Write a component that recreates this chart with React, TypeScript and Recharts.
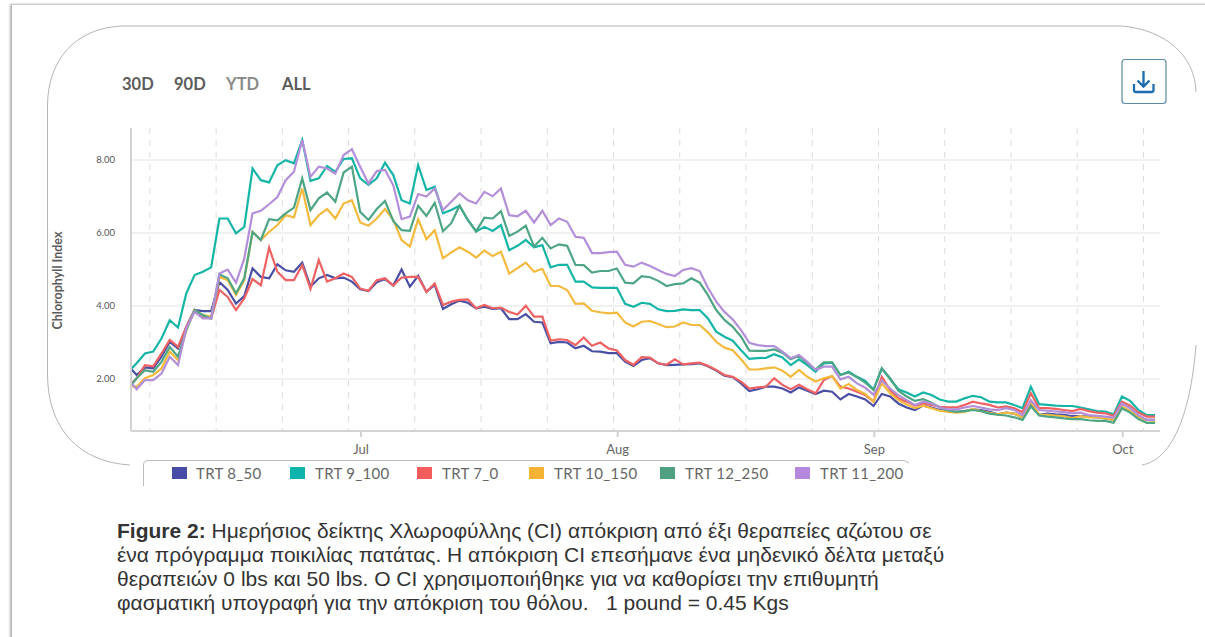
import { CartesianGrid, Line, LineChart, XAxis, YAxis } from 'recharts';

// days counted from 1 June, the first sample is cut off by the axis
const days = [
  2.3,
  2.9, 3.9, 4.9, 5.9, 6.9, 7.9, 8.9, 9.9, 10.9, 11.9,
  12.9, 13.9, 14.9, 15.9, 16.9, 17.9, 18.9, 19.9, 20.9, 21.9,
  22.9, 23.9, 24.9, 25.9, 26.9, 27.9, 28.9, 29.9, 30.9, 31.9,
  32.9, 33.9, 34.9, 35.9, 36.9, 37.9, 38.9, 39.9, 40.9, 41.9,
  42.9, 43.9, 44.9, 45.9, 46.9, 47.9, 48.9, 49.9, 50.9, 51.9,
  52.9, 53.9, 54.9, 55.9, 56.9, 57.9, 58.9, 59.9, 60.9, 61.9,
  62.9, 63.9, 64.9, 65.9, 66.9, 67.9, 68.9, 69.9, 70.9, 71.9,
  72.9, 73.9, 74.9, 75.9, 76.9, 77.9, 78.9, 79.9, 80.9, 81.9,
  82.9, 83.9, 84.9, 85.9, 86.9, 87.9, 88.9, 89.9, 90.9, 91.9,
  92.9, 93.9, 94.9, 95.9, 96.9, 97.9, 98.9, 99.9, 100.9, 101.9,
  102.9, 103.9, 104.9, 105.9, 106.9, 107.9, 108.9, 109.9, 110.9, 111.9,
  112.9, 113.9, 114.9, 115.9, 116.9, 117.9, 118.9, 119.9, 120.9, 121.9,
  122.9, 123.9, 124.9, 125.9,
];

const trt8 = [
  2.26,
  2.11, 2.32, 2.29, 2.61, 3.02, 2.84, 3.43, 3.89, 3.86, 3.86,
  4.66, 4.44, 4.07, 4.27, 5.03, 4.80, 4.76, 5.14, 4.98, 4.94,
  5.19, 4.53, 4.76, 4.85, 4.76, 4.78, 4.67, 4.46, 4.41, 4.65,
  4.74, 4.56, 5.00, 4.53, 4.83, 4.39, 4.58, 3.92, 4.05, 4.15,
  4.09, 3.94, 3.98, 3.92, 3.94, 3.64, 3.64, 3.78, 3.57, 3.55,
  2.98, 3.02, 3.00, 2.84, 2.91, 2.76, 2.75, 2.71, 2.71, 2.48,
  2.36, 2.52, 2.57, 2.43, 2.38, 2.39, 2.40, 2.41, 2.43, 2.35,
  2.23, 2.09, 2.05, 1.88, 1.67, 1.72, 1.79, 1.79, 1.74, 1.63,
  1.77, 1.68, 1.59, 1.68, 1.65, 1.44, 1.59, 1.52, 1.44, 1.26,
  1.59, 1.52, 1.33, 1.22, 1.15, 1.27, 1.22, 1.15, 1.12, 1.10,
  1.12, 1.17, 1.15, 1.10, 1.03, 1.08, 1.05, 0.95, 1.30, 1.02,
  1.05, 1.03, 1.02, 0.98, 0.98, 0.97, 0.95, 0.92, 0.88, 1.20,
  1.12, 0.95, 0.88, 0.88,
];

const trt9 = [
  2.29,
  2.43, 2.70, 2.75, 3.11, 3.61, 3.41, 4.35, 4.85, 4.94, 5.06,
  6.40, 6.40, 5.99, 6.17, 7.77, 7.45, 7.39, 7.86, 8.00, 7.91,
  8.55, 7.43, 7.50, 7.84, 7.68, 8.03, 8.05, 7.50, 7.32, 7.50,
  7.93, 7.59, 6.90, 6.81, 7.86, 7.18, 7.27, 6.54, 6.63, 6.75,
  6.36, 6.04, 6.17, 6.06, 6.22, 5.53, 5.65, 5.81, 5.61, 5.67,
  5.06, 5.13, 5.13, 4.67, 4.67, 4.51, 4.50, 4.50, 4.50, 4.06,
  3.98, 4.09, 4.06, 3.91, 3.86, 3.87, 3.91, 3.89, 3.89, 3.66,
  3.30, 3.16, 3.05, 2.79, 2.55, 2.57, 2.58, 2.68, 2.59, 2.38,
  2.54, 2.38, 2.20, 2.43, 2.45, 2.11, 2.20, 2.06, 1.95, 1.71,
  2.29, 2.00, 1.72, 1.63, 1.52, 1.63, 1.56, 1.44, 1.38, 1.38,
  1.47, 1.54, 1.50, 1.38, 1.36, 1.36, 1.29, 1.20, 1.79, 1.31,
  1.29, 1.27, 1.26, 1.26, 1.22, 1.17, 1.12, 1.11, 1.03, 1.52,
  1.40, 1.15, 1.01, 1.01,
];

const trt7 = [
  1.88,
  2.02, 2.38, 2.35, 2.70, 3.07, 2.88, 3.43, 3.89, 3.71, 3.66,
  4.44, 4.25, 3.89, 4.21, 4.74, 4.57, 5.60, 4.94, 4.71, 4.71,
  5.12, 4.47, 5.26, 4.67, 4.76, 4.89, 4.80, 4.48, 4.42, 4.71,
  4.76, 4.56, 4.78, 4.80, 4.80, 4.39, 4.62, 4.03, 4.12, 4.17,
  4.18, 3.94, 4.03, 3.94, 3.96, 3.84, 3.77, 4.01, 3.71, 3.71,
  3.05, 3.09, 3.07, 2.93, 3.14, 2.91, 3.00, 2.84, 2.78, 2.52,
  2.39, 2.60, 2.59, 2.43, 2.39, 2.54, 2.40, 2.43, 2.45, 2.36,
  2.25, 2.11, 2.06, 1.93, 1.74, 1.77, 1.79, 2.02, 1.84, 1.72,
  1.84, 1.72, 1.61, 1.97, 2.08, 1.79, 1.74, 1.65, 1.56, 1.38,
  2.06, 1.70, 1.47, 1.38, 1.27, 1.33, 1.29, 1.24, 1.22, 1.22,
  1.29, 1.38, 1.33, 1.29, 1.22, 1.25, 1.20, 1.09, 1.61, 1.20,
  1.20, 1.18, 1.15, 1.12, 1.18, 1.12, 1.08, 1.06, 0.99, 1.38,
  1.27, 1.08, 0.97, 0.97,
];

const trt10 = [
  1.80,
  1.79, 2.02, 2.11, 2.29, 2.75, 2.52, 3.34, 3.89, 3.75, 3.71,
  4.80, 4.71, 4.30, 4.71, 6.03, 5.81, 6.03, 6.22, 6.49, 6.43,
  7.22, 6.22, 6.49, 6.66, 6.40, 6.81, 6.90, 6.29, 6.20, 6.40,
  6.66, 6.36, 5.81, 5.63, 6.38, 5.83, 6.08, 5.31, 5.47, 5.61,
  5.49, 5.33, 5.52, 5.37, 5.49, 4.89, 5.04, 5.19, 4.94, 5.02,
  4.55, 4.55, 4.44, 4.06, 4.07, 3.87, 3.83, 3.80, 3.82, 3.55,
  3.44, 3.57, 3.59, 3.51, 3.42, 3.44, 3.55, 3.48, 3.48, 3.28,
  3.02, 2.86, 2.79, 2.54, 2.26, 2.26, 2.29, 2.32, 2.23, 2.06,
  2.25, 2.06, 1.93, 2.02, 2.08, 1.74, 1.86, 1.70, 1.59, 1.38,
  1.88, 1.61, 1.42, 1.30, 1.20, 1.27, 1.20, 1.13, 1.10, 1.08,
  1.10, 1.18, 1.12, 1.07, 1.03, 1.08, 1.05, 0.95, 1.38, 1.02,
  1.02, 1.00, 0.98, 0.93, 0.98, 0.95, 0.95, 0.92, 0.88, 1.25,
  1.12, 0.95, 0.87, 0.85,
];

const trt12 = [
  1.85,
  2.02, 2.24, 2.20, 2.47, 2.88, 2.61, 3.34, 3.89, 3.75, 3.66,
  4.87, 4.76, 4.35, 4.76, 6.03, 5.81, 6.38, 6.35, 6.54, 6.70,
  7.50, 6.63, 6.95, 7.11, 6.86, 7.66, 7.82, 6.58, 6.36, 6.66,
  6.88, 6.33, 6.08, 6.06, 6.75, 6.47, 6.83, 6.05, 6.27, 6.75,
  6.36, 6.05, 6.42, 6.40, 6.60, 5.92, 6.04, 6.20, 5.63, 5.87,
  5.58, 5.69, 5.65, 5.13, 5.12, 4.92, 4.96, 4.96, 5.03, 4.64,
  4.62, 4.82, 4.79, 4.69, 4.55, 4.60, 4.62, 4.76, 4.64, 4.30,
  3.89, 3.62, 3.43, 3.16, 2.78, 2.77, 2.77, 2.81, 2.72, 2.54,
  2.64, 2.43, 2.26, 2.46, 2.46, 2.11, 2.18, 2.05, 1.90, 1.70,
  2.29, 2.02, 1.68, 1.52, 1.40, 1.45, 1.35, 1.22, 1.14, 1.10,
  1.12, 1.15, 1.12, 1.05, 1.02, 1.00, 0.95, 0.88, 1.25, 1.00,
  0.97, 0.95, 0.92, 0.90, 0.90, 0.87, 0.85, 0.85, 0.80, 1.20,
  1.08, 0.90, 0.80, 0.80,
];

const trt11 = [
  1.88,
  1.72, 1.97, 1.97, 2.15, 2.61, 2.38, 3.39, 3.84, 3.66, 3.66,
  4.89, 5.00, 4.64, 5.30, 6.54, 6.61, 6.79, 6.99, 7.45, 7.68,
  8.55, 7.54, 7.82, 7.77, 7.63, 8.14, 8.30, 7.82, 7.36, 7.70,
  7.73, 7.31, 6.38, 6.45, 7.07, 7.00, 7.22, 6.63, 6.86, 7.09,
  6.90, 6.81, 7.13, 7.01, 7.22, 6.49, 6.46, 6.61, 6.29, 6.61,
  6.22, 6.40, 6.31, 5.90, 5.87, 5.45, 5.45, 5.48, 5.49, 5.13,
  5.08, 5.19, 5.10, 4.99, 4.88, 4.82, 4.99, 5.04, 4.96, 4.50,
  4.12, 3.84, 3.63, 3.34, 2.99, 2.93, 2.90, 2.90, 2.75, 2.57,
  2.66, 2.47, 2.25, 2.34, 2.34, 1.99, 2.06, 1.88, 1.76, 1.57,
  1.96, 1.74, 1.56, 1.42, 1.29, 1.38, 1.33, 1.22, 1.17, 1.17,
  1.22, 1.26, 1.22, 1.17, 1.15, 1.20, 1.15, 1.01, 1.42, 1.15,
  1.13, 1.11, 1.09, 1.06, 1.08, 1.01, 0.99, 0.97, 0.94, 1.33,
  1.20, 1.01, 0.88, 0.88,
];

const seriesNames = ['TRT 8_50', 'TRT 9_100', 'TRT 7_0', 'TRT 10_150', 'TRT 12_250', 'TRT 11_200'];
const seriesValues = [trt8, trt9, trt7, trt10, trt12, trt11];
const seriesColors = ['#4a4fa5', '#14b5a6', '#ef6263', '#f3ba3d', '#4ea584', '#b48fd9'];
const swatchColors = ['#474ca6', '#0fb5ac', '#f25c5c', '#f5b335', '#4fa080', '#b588dd'];
const legendSwatchX = [172, 290, 417, 529, 660, 795];
const legendTextX = [196, 315, 442, 554, 685, 820];

const yTicks = [2, 4, 6, 8];
const monthTicks = [30, 61, 92, 122];
const monthNames = ['Jul', 'Aug', 'Sep', 'Oct'];
const gridDays = [4.5, 12.5, 20.5, 28.5, 36.5, 44.5, 52.5, 60.5, 68.5, 76.5, 84.5, 92.5, 100.5, 108.5, 116.5, 124.5];

const rangeButtons = [
  { label: '30D', x: 122, color: '#5c5c5c' },
  { label: '90D', x: 174, color: '#5c5c5c' },
  { label: 'YTD', x: 226, color: '#8a8a8a' },
  { label: 'ALL', x: 282, color: '#5c5c5c' },
];

const captionLines = [
  'Ημερήσιος δείκτης Χλωροφύλλης (CI) απόκριση από έξι θεραπείες αζώτου σε',
  'ένα πρόγραμμα ποικιλίας πατάτας. Η απόκριση CI επεσήμανε ένα μηδενικό δέλτα μεταξύ',
  'θεραπειών 0 lbs και 50 lbs. Ο CI χρησιμοποιήθηκε για να καθορίσει την επιθυμητή',
  'φασματική υπογραφή για την απόκριση του θόλου.\u00a0\u00a0\u00a01 pound = 0.45 Kgs',
];
const captionTop = [521, 545, 569, 593];

const chartData = days.map((day, i) => {
  const row: Record<string, number> = { day };
  seriesNames.forEach((name, s) => {
    row[name] = seriesValues[s][i];
  });
  return row;
});

const LABEL_FONT = 'Lato, "Open Sans", sans-serif';

export default function App() {
  return (
    <div style={{ position: 'absolute', left: 0, top: 0, width: 1205, height: 637, overflow: 'hidden', background: '#fff' }}>
      {/* scanned page edge */}
      <div style={{ position: 'absolute', left: 12, top: 5, width: 1300, height: 800, background: '#fff', boxShadow: '-2px -1px 2px rgba(0,0,0,0.3)' }} />

      {/* frame and legend box */}
      <svg width={1205} height={637} style={{ position: 'absolute', left: 0, top: 0 }}>
        <path d="M130 465 C 80 462, 48 430, 47.5 375 L 47.5 105 C 48 60, 75 28, 122 26 L 1122 26 C 1165 30, 1195 55, 1196 92" fill="none" stroke="#b5b5b5" strokeWidth={1} />
        <path d="M1142 465 C 1170 460, 1190 420, 1196 345" fill="none" stroke="#b5b5b5" strokeWidth={1} />
        <path d="M143.5 486 L 143.5 465 Q 143.5 460.5 148 460.5 L 904 460.5 L 909 463" fill="none" stroke="#bbb" strokeWidth={1} />
        {/* download button */}
        <rect x={1122} y={59.5} width={44} height={44} rx={3} fill="#fff" stroke="#5c8ba8" strokeWidth={1.2} />
        <path d="M1143.5 71 L 1143.5 86 M1137.5 80.5 L 1143.5 86.5 L 1149.5 80.5 M1134 84 L 1134 90 Q 1134 92 1136 92 L 1151.5 92 Q 1153.5 92 1153.5 90 L 1153.5 84" fill="none" stroke="#1c6db0" strokeWidth={2.3} />
      </svg>

      {rangeButtons.map((b) => (
        <div key={b.label} style={{ position: 'absolute', left: b.x, top: 75, fontFamily: LABEL_FONT, fontSize: 16.5, fontWeight: 700, lineHeight: '18px', color: b.color }}>
          {b.label}
        </div>
      ))}

      <div style={{ position: 'absolute', left: 0, top: 0 }}>
        <LineChart width={1205} height={500} data={chartData} margin={{ top: 128, right: 45, bottom: 39, left: 71 }}>
          <CartesianGrid vertical={false} horizontalValues={yTicks} stroke="#f0f0f0" strokeWidth={2} />
          <CartesianGrid horizontal={false} verticalValues={gridDays} stroke="#dcdcdc" strokeDasharray="6 6" />
          <XAxis
            dataKey="day"
            type="number"
            domain={[2.22, 126.5]}
            allowDataOverflow
            ticks={monthTicks}
            tickFormatter={(v) => monthNames[monthTicks.indexOf(v)]}
            height={30}
            stroke="#d2d2d2"
            strokeWidth={2}
            tickSize={6}
            tickMargin={8}
            tick={{ fontSize: 13, fill: '#666', fontFamily: LABEL_FONT }}
          />
          <YAxis
            type="number"
            domain={[0.575, 8.88]}
            allowDataOverflow
            ticks={yTicks}
            tickFormatter={(v) => v.toFixed(2)}
            width={60}
            stroke="#d2d2d2"
            strokeWidth={2}
            tickLine={false}
            tickMargin={10}
            tick={{ fontSize: 9.5, fill: '#555', fontFamily: LABEL_FONT }}
            label={{ value: 'Chlorophyll Index', angle: -90, position: 'insideLeft', offset: 0, dx: -13, dy: 50, style: { fontSize: 12.5, fontWeight: 700, fill: '#5c5c5c', fontFamily: LABEL_FONT } }}
          />
          {seriesNames.map((name, s) => (
            <Line key={name} dataKey={name} type="linear" stroke={seriesColors[s]} strokeWidth={2.2} dot={false} isAnimationActive={false} />
          ))}
        </LineChart>
      </div>

      {seriesNames.map((name, s) => (
        <div key={name}>
          <div style={{ position: 'absolute', left: legendSwatchX[s], top: 467, width: 15, height: 12, background: swatchColors[s] }} />
          <div style={{ position: 'absolute', left: legendTextX[s], top: 464, fontFamily: LABEL_FONT, fontSize: 15, lineHeight: '18px', letterSpacing: 0.3, color: '#666', whiteSpace: 'nowrap' }}>
            {name}
          </div>
        </div>
      ))}

      {captionLines.map((line, i) => (
        <div key={i} style={{ position: 'absolute', left: 117, top: captionTop[i], fontFamily: '"Liberation Sans", Arial, sans-serif', fontSize: 21, lineHeight: '20px', color: '#333', whiteSpace: 'nowrap' }}>
          {i === 0 && <b>Figure 2: </b>}
          {line}
        </div>
      ))}
    </div>
  );
}
